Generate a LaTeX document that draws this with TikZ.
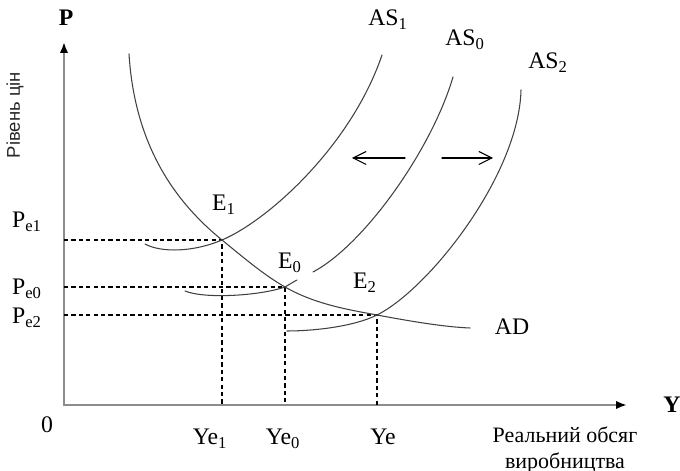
\documentclass[tikz,border=0pt]{standalone}
\usepackage{fontspec}
\setmainfont{Liberation Serif}
\newfontfamily\axisfont{Liberation Sans}
\usepackage{tikz}
\usetikzlibrary{arrows.meta}

\begin{document}
\begin{tikzpicture}[>={Latex[black,length=2.2mm,width=1.7mm]},font=\fontsize{13.5}{16}\selectfont,line cap=round,
  curve/.style={black!75,line width=0.6pt},
  guide/.style={black,line width=0.6pt,dash pattern=on 2.4pt off 1.8pt,line cap=butt},
  axis/.style={black!45,line width=1.3pt}]
\useasboundingbox (-1.28,-1.32) rectangle (12.32,8.10);
% axes
\coordinate (O) at (0,0);
\coordinate (Ptop) at (0,7.26);
\coordinate (Yend) at (11.26,0);
\draw[axis,->] (O) -- (Ptop);
\draw[axis,->] (O) -- (Yend);
\node[font=\fontsize{13.5}{16}\selectfont\bfseries] (lP) at (0.04,7.74) {P};
\node[font=\fontsize{13.5}{16}\selectfont\bfseries] (lY) at (12.16,0) {Y};
\node (lO) at (-0.34,-0.40) {0};
\node[rotate=90,font=\axisfont\fontsize{10.5}{12}\selectfont,text=black!85] (lPrice) at (-0.98,5.80) {Рівень цін};
\node[align=center,font=\fontsize{12.5}{14.5}\selectfont] (lOutput) at (10.02,-0.90) {Реальний обсяг\\виробництва};
% equilibria
\coordinate (E1) at (3.16,3.30);
\coordinate (E0) at (4.42,2.36);
\coordinate (E2) at (6.26,1.80);
\draw[guide] (O |- E1) -- (E1) -- (E1 |- O);
\draw[guide] (O |- E0) -- (E0) -- (E0 |- O);
\draw[guide] (O |- E2) -- (E2) -- (E2 |- O);
\node (lPe1) at (-0.74,3.66) {P\textsubscript{e1}};
\node (lPe0) at (-0.74,2.32) {P\textsubscript{e0}};
\node (lPe2) at (-0.74,1.74) {P\textsubscript{e2}};
\node (lYe1) at (2.92,-0.68) {Ye\textsubscript{1}};
\node (lYe0) at (4.38,-0.68) {Ye\textsubscript{0}};
\node (lYe) at (6.38,-0.64) {Ye};
% demand
\draw[curve] (1.30,7.02) .. controls (1.42,5.1) and (2.3,4.0) .. (E1)
  .. controls (3.6,2.94) and (4.0,2.6) .. (E0)
  .. controls (5.0,2.03) and (5.6,1.92) .. (E2)
  .. controls (6.9,1.68) and (7.6,1.56) .. (8.12,1.54);
\node (lAD) at (8.96,1.56) {AD};
% supply
\draw[curve] (1.62,3.22) .. controls (1.95,3.04) and (2.6,3.06) .. (E1)
  .. controls (4.1,3.70) and (5.75,5.2) .. (6.36,7.00);
\draw[curve] (2.42,2.28) .. controls (2.8,2.12) and (3.9,2.18) .. (E0)
  .. controls (4.52,2.42) .. (4.66,2.50);
\draw[curve] (4.98,2.66) .. controls (6.0,3.2) and (7.35,5.1) .. (7.78,6.56);
\draw[curve] (4.46,1.48) .. controls (5.0,1.48) and (5.8,1.57) .. (E2)
  .. controls (7.3,2.32) and (9.1,4.6) .. (9.14,6.30);
\node (lAS1) at (6.48,7.70) {AS\textsubscript{1}};
\node (lAS0) at (8.02,7.30) {AS\textsubscript{0}};
\node (lAS2) at (9.68,6.84) {AS\textsubscript{2}};
\node (lE1) at (3.20,4.00) {E\textsubscript{1}};
\node (lE0) at (4.52,2.84) {E\textsubscript{0}};
\node (lE2) at (6.02,2.44) {E\textsubscript{2}};
% shifts
\coordinate (sL0) at (6.82,4.94);
\coordinate (sL1) at (5.76,4.94);
\coordinate (sR0) at (7.56,4.94);
\coordinate (sR1) at (8.58,4.94);
\draw[black,line width=0.6pt,-{Straight Barb[length=2.6mm,width=2.6mm]}] (sL0) -- (sL1);
\draw[black,line width=0.6pt,-{Straight Barb[length=2.6mm,width=2.6mm]}] (sR0) -- (sR1);
\end{tikzpicture}
\end{document}
